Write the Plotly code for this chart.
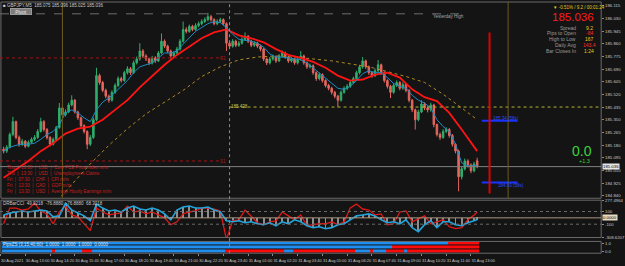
import pandas as pd
import plotly.graph_objects as go

W, H = 625, 266
FONT = "Liberation Sans"
BG = "#141414"

# ---------------- data ----------------
candle_start = "2021-08-30 11:50"
n_candles = 154
times = pd.date_range(candle_start, periods=n_candles, freq="10min")

opens = [185.153,185.140,185.166,185.252,185.338,185.232,185.186,185.206,185.173,185.199,
         185.219,185.232,185.272,185.338,185.285,185.232,185.186,185.219,185.298,185.430,
         185.384,185.403,185.450,185.482,185.403,185.364,185.311,185.272,185.186,185.232,
         185.351,185.647,185.601,185.548,185.509,185.482,185.535,185.581,185.627,185.614,
         185.667,185.693,185.667,185.733,185.759,185.812,185.779,185.759,185.733,185.766,
         185.746,185.799,185.878,185.845,185.812,185.779,185.799,185.825,185.878,185.957,
         185.944,185.977,185.957,185.983,185.996,186.010,186.023,186.043,186.023,185.996,
         186.010,186.023,185.996,185.865,185.845,185.878,185.851,185.865,185.891,185.911,
         185.878,185.851,185.865,185.845,185.825,185.759,185.733,185.759,185.772,185.746,
         185.779,185.799,185.772,185.746,185.759,185.733,185.759,185.779,185.733,185.706,
         185.713,185.667,185.627,185.654,185.614,185.581,185.562,185.535,185.509,185.482,
         185.535,185.562,185.575,185.601,185.627,185.667,185.706,185.746,185.706,185.667,
         185.647,185.680,185.720,185.667,185.614,185.575,185.535,185.581,185.601,185.562,
         185.588,185.548,185.482,185.417,185.351,185.403,185.456,185.430,185.417,185.450,
         185.318,185.252,185.232,185.272,185.285,185.245,185.186,185.140,184.968,185.021,
         185.074,185.047,185.008,185.075]
closes = [185.140,185.166,185.252,185.338,185.232,185.186,185.206,185.173,185.199,185.219,
          185.232,185.272,185.338,185.285,185.232,185.186,185.219,185.298,185.430,185.384,
          185.403,185.450,185.482,185.403,185.364,185.311,185.272,185.186,185.232,185.351,
          185.647,185.601,185.548,185.509,185.482,185.535,185.581,185.627,185.614,185.667,
          185.693,185.667,185.733,185.759,185.812,185.779,185.759,185.733,185.766,185.746,
          185.799,185.878,185.845,185.812,185.779,185.799,185.825,185.878,185.957,185.944,
          185.977,185.957,185.983,185.996,186.010,186.023,186.043,186.023,185.996,186.010,
          186.023,185.996,185.865,185.845,185.878,185.851,185.865,185.891,185.911,185.878,
          185.851,185.865,185.845,185.825,185.759,185.733,185.759,185.772,185.746,185.779,
          185.799,185.772,185.746,185.759,185.733,185.759,185.779,185.733,185.706,185.713,
          185.667,185.627,185.654,185.614,185.581,185.562,185.535,185.509,185.482,185.535,
          185.562,185.575,185.601,185.627,185.667,185.706,185.746,185.706,185.667,185.647,
          185.680,185.720,185.667,185.614,185.575,185.535,185.581,185.601,185.562,185.588,
          185.548,185.482,185.417,185.351,185.403,185.456,185.430,185.417,185.450,185.318,
          185.252,185.232,185.272,185.285,185.245,185.186,185.140,184.968,185.021,185.074,
          185.047,185.008,185.054,185.036]
highs = [185.170,185.180,185.265,185.371,185.345,185.245,185.222,185.215,185.212,185.232,
         185.248,185.288,185.364,185.348,185.295,185.240,185.232,185.310,185.463,185.442,
         185.420,185.465,185.515,185.490,185.412,185.372,185.320,185.280,185.248,185.365,
         185.700,185.660,185.612,185.560,185.520,185.548,185.595,185.642,185.640,185.680,
         185.710,185.705,185.748,185.775,185.865,185.825,185.790,185.768,185.780,185.778,
         185.812,185.930,185.890,185.855,185.822,185.812,185.840,185.892,186.010,185.972,
         185.990,185.988,185.998,186.010,186.025,186.038,186.069,186.055,186.032,186.025,
         186.036,186.032,186.005,185.880,185.892,185.888,185.880,185.905,185.937,185.920,
         185.888,185.878,185.875,185.855,185.832,185.768,185.772,185.788,185.782,185.792,
         185.815,185.808,185.780,185.772,185.768,185.772,185.812,185.788,185.742,185.728,
         185.722,185.675,185.668,185.662,185.622,185.592,185.572,185.545,185.518,185.548,
         185.575,185.590,185.615,185.640,185.680,185.720,185.772,185.755,185.715,185.678,
         185.695,185.752,185.728,185.675,185.622,185.585,185.595,185.615,185.610,185.602,
         185.598,185.556,185.490,185.425,185.418,185.482,185.468,185.442,185.465,185.458,
         185.325,185.265,185.288,185.300,185.295,185.255,185.195,185.150,185.035,185.090,
         185.085,185.058,185.068,185.096]
lows = [185.125,185.128,185.158,185.240,185.220,185.170,185.175,185.160,185.165,185.190,
        185.208,185.222,185.265,185.272,185.218,185.172,185.178,185.210,185.290,185.370,
        185.372,185.395,185.440,185.392,185.350,185.298,185.258,185.153,185.175,185.222,
        185.340,185.585,185.535,185.495,185.465,185.472,185.525,185.570,185.600,185.605,
        185.655,185.652,185.658,185.722,185.748,185.765,185.745,185.718,185.722,185.732,
        185.738,185.790,185.832,185.798,185.762,185.768,185.790,185.815,185.868,185.930,
        185.935,185.945,185.948,185.972,185.985,186.000,186.012,186.010,185.985,185.985,
        186.000,185.982,185.812,185.830,185.835,185.838,185.840,185.855,185.880,185.865,
        185.838,185.840,185.832,185.810,185.745,185.718,185.722,185.748,185.732,185.738,
        185.768,185.760,185.732,185.735,185.720,185.722,185.748,185.720,185.692,185.695,
        185.652,185.612,185.615,185.600,185.568,185.548,185.520,185.495,185.436,185.472,
        185.525,185.550,185.565,185.590,185.618,185.655,185.695,185.692,185.652,185.632,
        185.638,185.670,185.652,185.600,185.560,185.496,185.525,185.570,185.548,185.552,
        185.535,185.468,185.402,185.285,185.340,185.395,185.415,185.400,185.405,185.300,
        185.238,185.215,185.222,185.260,185.230,185.170,185.125,184.870,184.950,185.010,
        185.030,184.992,184.998,185.025]

# moving averages (sampled)
slow_ma = [184.962,185.021,185.074,185.140,185.193,185.258,185.291,185.305,185.351,185.417,
           185.482,185.568,185.647,185.720,185.786,185.845,185.898,185.937,185.957,185.917,
           185.898,185.871,185.825,185.786,185.766,185.739,185.700,185.647,185.614,185.621,
           185.654,185.667,185.634,185.555,185.502,185.476,185.397,185.285,185.166,185.140]
fast_ma = [185.140,185.166,185.179,185.186,185.186,185.193,185.219,185.252,185.272,185.318,
           185.397,185.417,185.397,185.364,185.338,185.417,185.469,185.496,185.535,185.575,
           185.614,185.667,185.706,185.720,185.733,185.766,185.799,185.799,185.812,185.858,
           185.904,185.944,185.970,185.996,186.010,186.003,185.970,185.924,185.891,185.884,
           185.878,185.865,185.838,185.792,185.772,185.772,185.766,185.759,185.753,185.733,
           185.700,185.667,185.634,185.601,185.562,185.555,185.575,185.614,185.660,185.680,
           185.667,185.667,185.634,185.594,185.575,185.562,185.515,185.482,185.463,185.430,
           185.351,185.305,185.272,185.186,185.061,185.041,185.041,185.041]
long_ma = [184.777,184.916,185.054,185.179,185.291,185.390,185.469,185.548,185.641,185.706,
           185.753,185.772,185.779,185.772,185.759,185.746,185.726,185.706,185.674,185.641,
           185.601,185.522,185.430,185.351]

# oscillator (CCI) sampled every 20 minutes
cci_main = [46,77,92,108,92,108,123,108,15,31,
            231,123,77,31,-46,216,154,108,123,92,
            154,185,139,123,154,123,62,-31,123,170,
            185,154,154,170,123,92,-46,-62,-46,-77,
            -62,-93,-108,-77,-124,-62,-93,-31,-62,-124,
            -154,-139,-170,-154,-108,-93,-31,31,46,62,
            31,-31,-77,-62,-93,-31,-154,-216,-108,-46,
            -154,-62,-62,-108,-124,-77,-46,-31]
cci_signal = [-93,154,154,123,139,231,108,62,-93,92,
              185,46,15,-93,-201,154,92,46,62,77,
              185,92,108,62,92,46,0,-108,-62,62,
              92,108,154,154,139,108,-340,-46,-31,123,
              31,-77,-108,-62,-46,92,31,-31,46,-124,
              -108,-93,-93,-62,-108,-62,154,216,139,123,
              46,62,-108,-93,92,108,-62,-16,31,-93,
              -62,-31,-139,-170,-154,-31,46,92]

# bottom signal rows: runs of (state, length), 1 = up (blue), 0 = down (red)
row_top_runs = [(1, 144), (0, 10)]
row_mid_runs = [(1, 126), (0, 28)]
row_bot_runs = [(1, 16), (0, 1), (1, 9), (0, 3), (1, 43), (0, 19), (1, 3), (0, 20),
                (1, 5), (0, 1), (1, 4), (0, 6), (1, 1), (0, 23)]

# levels
current_price = 185.036
yesterday_high = 186.062
pivot_r1 = 185.766
pivot_s1 = 185.074
today_pivot = 185.436
proj_high = 185.344
proj_low = 184.929
range_top = 185.937
range_bottom = 184.856

price_ticks = [186.115, 186.030, 185.945, 185.860, 185.775, 185.690, 185.605, 185.520,
               185.435, 185.350, 185.265, 185.180, 185.095, 185.010, 184.925, 184.840]
osc_ticks = [277.4964, 100, -100, -308.6207]

news = ["Thu  |  13:30  |  USD  |  Core PCE Price Index m/m",
        "Thu  |  13:30  |  USD  |  Unemployment Claims",
        "Fri  |  07:30  |  CHF  |  CPI m/m",
        "Fri  |  13:30  |  CAD  |  GDP m/m",
        "Fri  |  13:30  |  USD  |  Average Hourly Earnings m/m"]
info_labels = ["Spread", "Pips to Open", "High to Low", "Daily Avg", "Bar Closes In"]
info_values = ["9.2", "-84", "167", "143.4", "1:24"]
info_colors = ["#e6c619", "#ff2a2a", "#e6c619", "#ff2a2a", "#e6c619"]

# ---------------- derived sampling of times ----------------
t_fast = list(times[0::2]) + [times[-1]]
t_slow = list(times[0::4]) + [times[-1]]
t_long = list(times[16::6]) + [times[-1]]
t_osc = list(times[0::2]) + [times[-1]]

def expand(runs):
    out = []
    for s, n in runs:
        out += [s] * n
    return out

z_rows = [expand(row_bot_runs), expand(row_mid_runs), expand(row_top_runs)]

tick_times = pd.date_range("2021-08-30 11:40", periods=20, freq="80min")
tick_text = ["30 Aug 2021"] + [t.strftime("%d %b %H:%M") for t in tick_times[1:]]

X_RANGE = ["2021-08-30 11:38:17", "2021-08-31 20:00:41"]
XD = 607 / W

def py(p):
    return 1 - p / H

dom_main = [py(200), 1]
dom_osc = [py(240), py(202)]
dom_sig = [py(256), py(244)]

fig = go.Figure()

# main candles
fig.add_trace(go.Candlestick(
    x=times, open=opens, high=highs, low=lows, close=closes,
    increasing=dict(line=dict(color="#2fae6c", width=1), fillcolor="#2fae6c"),
    decreasing=dict(line=dict(color="#e4675f", width=1), fillcolor="#e4675f"),
    whiskerwidth=0, xaxis="x", yaxis="y", hoverinfo="skip"))
fig.add_trace(go.Scatter(x=t_long, y=long_ma, mode="lines",
                         line=dict(color="#b08a26", width=1, dash="dot"), yaxis="y"))
fig.add_trace(go.Scatter(x=t_slow, y=slow_ma, mode="lines",
                         line=dict(color="#ff1414", width=1.8), yaxis="y"))
fig.add_trace(go.Scatter(x=t_fast, y=fast_ma, mode="lines",
                         line=dict(color="#1d8cc4", width=1), yaxis="y"))

# oscillator
fig.add_trace(go.Bar(x=t_osc, y=cci_main, yaxis="y2", marker=dict(color="#8e8e8e", line=dict(width=0)),
                     width=190000))
fig.add_trace(go.Scatter(x=t_osc, y=cci_signal, mode="lines",
                         line=dict(color="#e01818", width=1.3), yaxis="y2"))
fig.add_trace(go.Scatter(x=t_osc, y=cci_main, mode="lines",
                         line=dict(color="#22a4dc", width=1.6), yaxis="y2"))

# signal rows
fig.add_trace(go.Heatmap(x=times, y=[0, 1, 2], z=z_rows, zmin=0, zmax=1,
                         colorscale=[[0, "#ff0a0a"], [1, "#1f8ef0"]], showscale=False,
                         ygap=1, yaxis="y3", hoverinfo="skip"))

shapes = []
# panel frames
for d in (dom_main, dom_osc, dom_sig):
    shapes.append(dict(type="rect", xref="paper", yref="paper", x0=0.0015, x1=XD, y0=d[0], y1=d[1],
                       line=dict(color="#6a6a6a", width=1), layer="above"))

def hline(yv, yref, x0, x1, color, dash="solid", width=1, xref="x"):
    shapes.append(dict(type="line", xref=xref, yref=yref, x0=x0, x1=x1, y0=yv, y1=yv,
                       line=dict(color=color, dash=dash, width=width)))

def vline(xv, y0, y1, color, dash="solid", width=1, yref="paper"):
    shapes.append(dict(type="line", xref="x", yref=yref, x0=xv, x1=xv, y0=y0, y1=y1,
                       line=dict(color=color, dash=dash, width=width)))

hline(yesterday_high, "y", X_RANGE[0], "2021-08-31 12:45", "#6e6e6e", "dash")
hline(pivot_r1, "y", X_RANGE[0], "2021-08-30 23:35", "#a01414", "dot")
hline(pivot_s1, "y", X_RANGE[0], "2021-08-30 23:30", "#a01414", "dot")
hline(today_pivot, "y", "2021-08-31 00:00", X_RANGE[1], "#b4b432", "dot")
hline(current_price, "y", 0, XD, "#808080", xref="paper")
hline(proj_high, "y", "2021-08-31 13:35", "2021-08-31 15:30", "#1832ff", width=2)
hline(proj_low, "y", "2021-08-31 13:35", "2021-08-31 15:30", "#1832ff", width=2)
hline(0, "y2", 0, XD, "#a89680", xref="paper")
hline(100, "y2", 0, XD, "#6a6a6a", "dot", xref="paper")
hline(-100, "y2", 0, XD, "#6a6a6a", "dot", xref="paper")

vline("2021-08-30 15:00", dom_main[0], 1, "#6e5a1c")
vline("2021-08-31 15:00", dom_main[0], 1, "#6e5a1c")
vline("2021-08-31 00:00", dom_sig[0], 1, "#8a8a8a", "dot")
vline("2021-08-31 14:00", range_bottom, range_top, "#e00000", width=2, yref="y")

def ann(text, x, y, size=5, color="#c8c8c8", xanchor="left", yanchor="middle", **kw):
    d = dict(text=text, x=x / W, y=1 - y / H, xref="paper", yref="paper", showarrow=False,
             font=dict(size=size, color=color, family=FONT), xanchor=xanchor, yanchor=yanchor,
             borderpad=0)
    d.update(kw)
    return d

anns = []
anns.append(ann("■ GBPJPY,M5  185.075 185.096 185.025 185.036", 2, 4, 4.5, "#c8c8c8"))
anns.append(ann("Pivot", 21, 10, 5, "#e8e8e8", xanchor="center", bgcolor="#7c7c7c",
                bordercolor="#9a9a9a", borderwidth=1, width=20, height=5))
anns.append(ann("Yesterday High", 470, 15, 4.5, "#a8a8a8", xanchor="right"))
anns.append(ann("R1", 221, 58, 4.5, "#b01818"))
anns.append(ann("S1", 221, 163, 4.5, "#b01818"))
anns.append(ann("185.438", 232, 107, 4.5, "#c8c850"))
anns.append(ann("185.34 (58s)", 497, 119, 4.5, "#2a4cff"))
anns.append(ann("184.93 (58s)", 502, 187, 4.5, "#2a4cff"))
anns.append(ann("▼ -0.51% / 9.2 / 00:01:24", 557, 6, 4.5, "#e6c619"))
anns.append(ann("185.036", 579, 15.5, 11.5, "#ff1a1a", xanchor="center"))
for i, (lab, val, col) in enumerate(zip(info_labels, info_values, info_colors)):
    yy = 26 + 6 * i
    anns.append(ann(lab, 583, yy, 5, "#9a9a9a", xanchor="right"))
    anns.append(ann(val, 595, yy, 5, col, xanchor="center"))
anns.append(ann("0.0", 588, 152, 14, "#3cd23c", xanchor="center"))
anns.append(ann("+1.3", 590, 162.5, 5.5, "#3cd23c", xanchor="center"))
for i, line in enumerate(news):
    anns.append(ann(line, 6, 169 + 6 * i, 4.5, "#c82020"))
anns.append(ann("DRBarCCI  49.9218  -76.8880  -76.8880  68.3018", 2, 205, 4.5, "#c8c8c8"))
anns.append(ann("PipsZS (3,15,40,60)  1.0000  1.0000  1.0000  0.0000", 2, 247.5, 4.5, "#d8e8ff"))
# axis tags
anns.append(dict(text="185.036", x=XD + 0.002, y=current_price, xref="paper", yref="y",
                 showarrow=False, xanchor="left", yanchor="middle", bgcolor="#e6e6e6",
                 font=dict(size=4.3, color="#000000", family=FONT), borderpad=0))
anns.append(dict(text="0.0000", x=XD + 0.002, y=0, xref="paper", yref="y2",
                 showarrow=False, xanchor="left", yanchor="middle", bgcolor="#e8dcc4",
                 font=dict(size=4.3, color="#000000", family=FONT), borderpad=0))

axis_common = dict(showgrid=False, zeroline=False, ticks="outside", ticklen=2,
                   tickcolor="#8a8a8a", tickfont=dict(size=4.3, color="#c8c8c8", family=FONT),
                   linecolor="#6a6a6a", showline=False)
x_common = {**axis_common, "tickfont": dict(size=4.0, color="#c8c8c8", family=FONT)}

fig.update_layout(
    width=W, height=H, margin=dict(l=0, r=0, t=0, b=0),
    paper_bgcolor=BG, plot_bgcolor=BG, showlegend=False, bargap=0,
    xaxis=dict(type="date", range=X_RANGE, domain=[0, XD], anchor="y3", tickangle=0,
               tickvals=list(tick_times), ticktext=tick_text, ticklabelposition="outside right",
               ticklabelstandoff=3,
               rangeslider=dict(visible=False), **x_common),
    yaxis=dict(domain=dom_main, range=[184.8236, 186.1414], side="right", anchor="x",
               tickvals=price_ticks, ticktext=[f"{v:.3f}" for v in price_ticks], **axis_common),
    yaxis2=dict(domain=dom_osc, range=[-308.6207, 277.4964], side="right", anchor="x",
                tickvals=osc_ticks, ticktext=["277.4964", "100", "-100", "-308.6207"], **axis_common),
    yaxis3=dict(domain=dom_sig, range=[-0.5, 2.5], side="right", anchor="x",
                tickvals=[2, 0], ticktext=["1.0", "0.0"], **axis_common),
    shapes=shapes, annotations=anns,
)

fig.write_html("out.html")
